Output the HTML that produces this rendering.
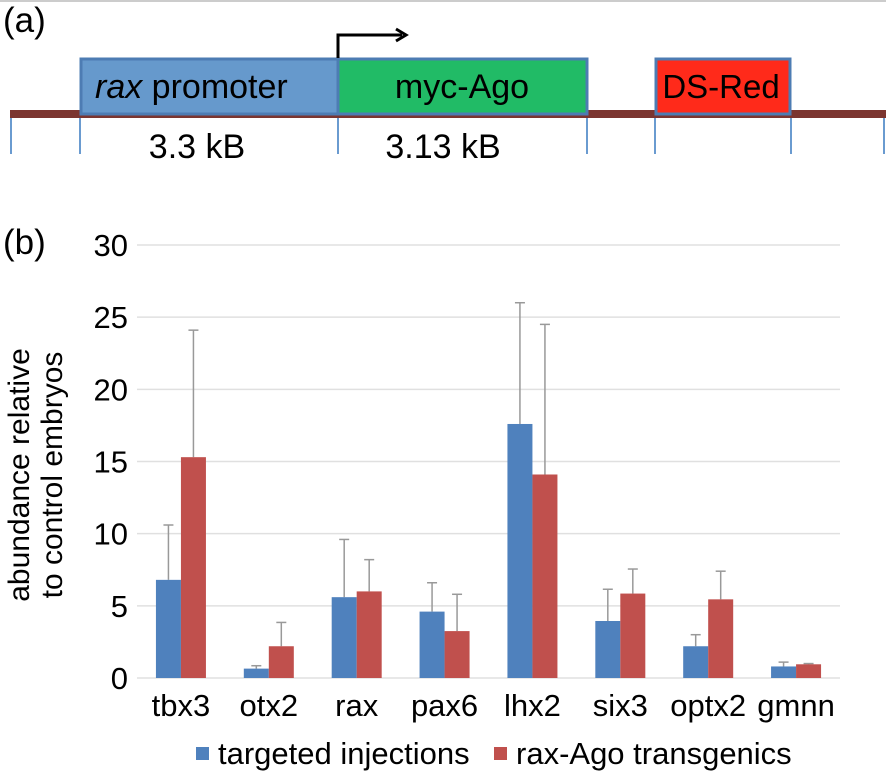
<!DOCTYPE html>
<html><head><meta charset="utf-8"><style>
body{margin:0;background:#fff;font-family:"Liberation Sans",sans-serif;}
svg{display:block}
</style></head><body>
<svg width="886" height="783" viewBox="0 0 886 783">
<line x1="0" y1="1" x2="886" y2="1" stroke="#ccc" stroke-width="2"/>
<text x="3" y="32" font-size="35">(a)</text>
<rect x="10" y="110" width="876" height="8" fill="#7b3530"/>
<g stroke="#6a9bd0" stroke-width="2">
<line x1="11" y1="118" x2="11" y2="154"/><line x1="80" y1="118" x2="80" y2="154"/><line x1="338" y1="118" x2="338" y2="154"/><line x1="587" y1="118" x2="587" y2="154"/><line x1="655" y1="118" x2="655" y2="154"/><line x1="791" y1="118" x2="791" y2="154"/><line x1="884" y1="118" x2="884" y2="154"/>
</g>
<rect x="81" y="59" width="257" height="55" fill="#6699cc" stroke="#4d7cb3" stroke-width="3"/>
<rect x="338" y="59" width="249" height="55" fill="#21bb66" stroke="#4d7cb3" stroke-width="3"/>
<rect x="656" y="59" width="134" height="55" fill="#ff2a1a" stroke="#4d7cb3" stroke-width="3"/>
<text x="95" y="98" font-size="34"><tspan font-style="italic">rax</tspan> promoter</text>
<text x="462" y="98" font-size="34" text-anchor="middle">myc-Ago</text>
<text x="721" y="98" font-size="33" text-anchor="middle">DS-Red</text>
<path d="M338 58 V35 H402" fill="none" stroke="#000" stroke-width="3"/>
<path d="M396 29 L406 35 L396 41" fill="none" stroke="#000" stroke-width="3"/>
<text x="197" y="158" font-size="34" text-anchor="middle">3.3 kB</text>
<text x="443" y="158" font-size="34" text-anchor="middle">3.13 kB</text>
<text x="3" y="254" font-size="35">(b)</text>
<g id="chart"></g>
</svg>
<script>
const categories=["tbx3","otx2","rax","pax6","lhx2","six3","optx2","gmnn"];
const injections=[6.8,0.65,5.6,4.6,17.6,3.95,2.2,0.8];
const injectionsErr=[3.8,0.2,4.0,2.0,8.4,2.2,0.8,0.3];
const transgenics=[15.3,2.2,6.0,3.25,14.1,5.85,5.45,0.95];
const transgenicsErr=[8.8,1.65,2.2,2.55,10.4,1.7,1.95,0.05];
const yTicks=[0,5,10,15,20,25,30];
const ns="http://www.w3.org/2000/svg";
const g=document.getElementById('chart');
const x0=137,x1=840,y0=678,yTop=245,ymax=30;
const y=v=>y0-(v/ymax)*(y0-yTop);
const bw=(x1-x0)/categories.length;
function mk(t,a){const e=document.createElementNS(ns,t);for(const k in a)e.setAttribute(k,a[k]);g.appendChild(e);return e;}
yTicks.forEach(t=>{
 const l=mk('line',{x1:x0,x2:x1,y1:y(t),y2:y(t),stroke:'#e0e0e0','stroke-width':1.5});
 
 
 const tx=mk('text',{x:128,y:y(t)+11,'font-size':31,'text-anchor':'end'});tx.textContent=t;
 
 
});
const colors=['#4f81bd','#c0504d'];
categories.forEach((c,i)=>{
 const cx=x0+bw*(i+0.5);
 [[injections,injectionsErr],[transgenics,transgenicsErr]].forEach((s,j)=>{
  const v=s[0][i],e=s[1][i];
  const bx=cx-25+j*25;
  const ex=bx+12.5;
  const el=mk('line',{x1:ex,x2:ex,y1:y(v),y2:y(v+e),stroke:'#999','stroke-width':1.5});
  
  
  const ec=mk('line',{x1:ex-5,x2:ex+5,y1:y(v+e),y2:y(v+e),stroke:'#999','stroke-width':1.5});
  
  
  const r=mk('rect',{x:bx,y:y(v),width:25,height:y0-y(v),fill:colors[j]});
  
  
 });
 const t=mk('text',{x:cx,y:y0+38,'font-size':31,'text-anchor':'middle'});t.textContent=c;
 
 
});
const yl=mk('text',{transform:'translate(29,475) rotate(-90)','font-size':30,'text-anchor':'middle'});
yl.textContent='abundance relative';


const yl2=mk('text',{transform:'translate(62,475) rotate(-90)','font-size':30,'text-anchor':'middle'});
yl2.textContent='to control embryos';


const leg=[['targeted injections',196],['rax-Ago transgenics',494]];
leg.forEach((l,j)=>{
 const r=mk('rect',{x:l[1],y:747,width:13,height:13,fill:colors[j]});
 
 
 const t=mk('text',{x:l[1]+22,y:764,'font-size':31});t.textContent=l[0];
 
 
});
</script>
</body></html>
